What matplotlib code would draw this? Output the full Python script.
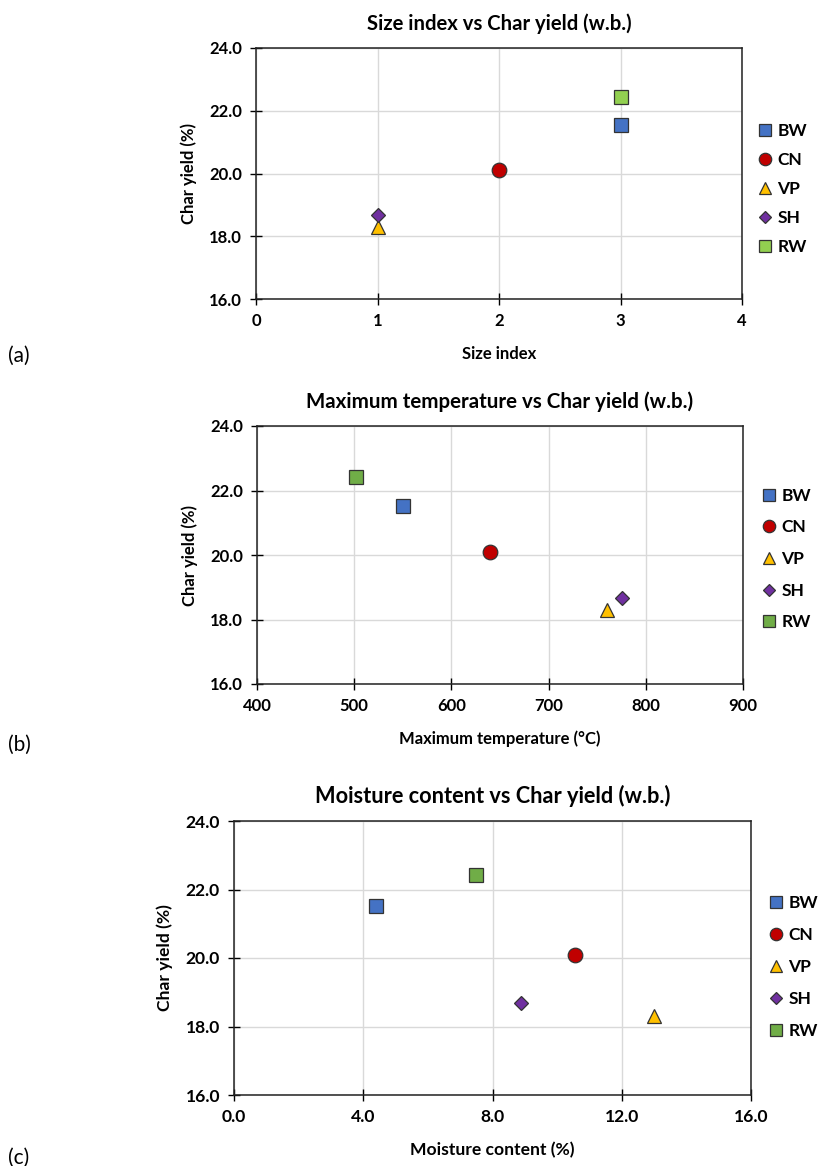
import matplotlib
matplotlib.use("Agg")
from matplotlib import pyplot as plt

plt.rcParams['font.family'] = ['Lato', 'DejaVu Sans']

# data
labels = ['BW', 'CN', 'VP', 'SH', 'RW']
char_yield = [21.53, 20.1, 18.3, 18.68, 22.43]
size_index = [3, 2, 1, 1, 3]
max_temp = [550, 640, 760, 775, 502]
moisture = [4.39, 10.55, 13.0, 8.87, 7.49]

markers = ['s', 'o', '^', 'D', 's']
sizes = [10.5, 10.5, 10, 7.5, 10.5]
colors_a = ['#4472C4', '#C00000', '#FFC000', '#7030A0', '#92D050']
colors_bc = ['#4472C4', '#C00000', '#FFC000', '#7030A0', '#70AD47']

W, H = 818, 1166
fig = plt.figure(figsize=(W / 100, H / 100), dpi=100)


def axes_px(l, t, r, b):
    return fig.add_axes([l / W, 1 - b / H, (r - l) / W, (b - t) / H])


def panel(box, xs, xlim, xticks, xfmt, colors, title, title_size, xlabel, k,
          leg_x, leg_y, leg_space, tag, tag_y):
    ax = axes_px(*box)
    for x, y, lab, m, s, c in zip(xs, char_yield, labels, markers, sizes, colors):
        ax.plot(x, y, linestyle='none', marker=m, markersize=s, markerfacecolor=c,
                markeredgecolor='#333333', markeredgewidth=0.9, label=lab, zorder=3)
    ax.set_xlim(*xlim)
    ax.set_ylim(16, 24)
    ax.set_xticks(xticks)
    ax.set_xticklabels([xfmt.format(v) for v in xticks])
    ax.set_yticks([16, 18, 20, 22, 24])
    ax.set_yticklabels(['{:.1f}'.format(v) for v in [16, 18, 20, 22, 24]])
    ax.grid(True, color='#D9D9D9', linewidth=1.0, zorder=0)
    ax.set_axisbelow(True)
    for sp in ax.spines.values():
        sp.set_color('#222222')
        sp.set_linewidth(1.1)
    ax.tick_params(direction='inout', length=8, width=1, labelsize=12 * k, pad=6)
    for t in ax.get_xticklabels() + ax.get_yticklabels():
        t.set_fontweight('bold')
    ax.set_title(title, fontsize=title_size, fontweight='bold', pad=13)
    ax.set_xlabel(xlabel, fontsize=12 * k, fontweight='bold', labelpad=12)
    ax.set_ylabel('Char yield (%)', fontsize=12 * k, fontweight='bold', labelpad=9)
    ax.legend(loc='center left', bbox_to_anchor=(leg_x / W, 1 - leg_y / H),
              bbox_transform=fig.transFigure, frameon=False, borderpad=0,
              borderaxespad=0, handlelength=0.7, handletextpad=0.35, markerscale=0.85,
              labelspacing=leg_space, prop={'size': 12.5, 'weight': 'bold'})
    fig.text(8 / W, 1 - tag_y / H, tag, fontsize=15, va='center', ha='left')
    return ax


panel((256, 48, 742, 299), size_index, (0, 4), [0, 1, 2, 3, 4], '{:d}', colors_a,
      'Size index vs Char yield (w.b.)', 14.6, 'Size index', 1.0,
      759, 189, 0.75, '(a)', 356)
panel((257, 426, 743, 684), max_temp, (400, 900), [400, 500, 600, 700, 800, 900], '{:d}',
      colors_bc, 'Maximum temperature vs Char yield (w.b.)', 14.8,
      'Maximum temperature (\u00b0C)', 1.0, 763, 559, 0.9, '(b)', 745)
panel((234, 821, 751, 1095), moisture, (0, 16), [0, 4, 8, 12, 16], '{:.1f}', colors_bc,
      'Moisture content vs Char yield (w.b.)', 15.7, 'Moisture content (%)', 1.05,
      770, 967, 0.92, '(c)', 1158)

fig.savefig('out.png', dpi=100)
